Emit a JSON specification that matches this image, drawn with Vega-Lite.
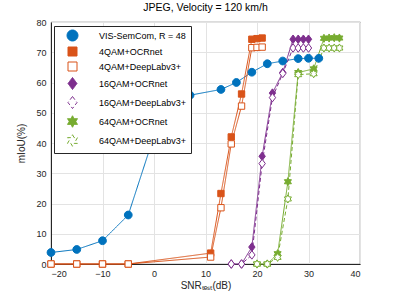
{
  "$schema": "https://vega.github.io/schema/vega-lite/v6.json",
  "width": 309,
  "height": 242,
  "autosize": {"type": "none"},
  "padding": {"left": 51, "top": 22, "right": 39, "bottom": 35},
  "background": "white",
  "title": {"text": "JPEG, Velocity = 120 km/h", "fontSize": 10.5, "fontWeight": "normal", "font": "Liberation Sans", "color": "#000000", "offset": 5, "anchor": "middle"},
  "config": {
    "view": {"stroke": "#262626", "strokeWidth": 0.8},
    "axis": {"labelFont": "Liberation Sans", "labelFontSize": 9, "labelColor": "#262626", "titleFont": "Liberation Sans", "titleFontSize": 10, "titleFontWeight": "normal", "titleColor": "#262626", "domainColor": "#262626", "tickColor": "#262626", "gridColor": "#e3e3e3", "ticks": false, "labelPadding": 5},
    "legend": {"orient": "none", "legendX": 3, "legendY": 4, "symbolOffset": 9, "labelOffset": 21, "symbolStrokeWidth": 1, "labelFont": "Liberation Sans", "labelFontSize": 9, "labelColor": "#000000", "padding": 4, "strokeColor": "#262626", "fillColor": "white", "rowPadding": 2}
  },
  "data": {"values": [
    {"s": "VIS-SemCom, R = 48", "snr": -20, "miou": 3.8},
    {"s": "VIS-SemCom, R = 48", "snr": -15, "miou": 4.8},
    {"s": "VIS-SemCom, R = 48", "snr": -10, "miou": 7.7},
    {"s": "VIS-SemCom, R = 48", "snr": -5, "miou": 16.2},
    {"s": "VIS-SemCom, R = 48", "snr": 1, "miou": 47.6},
    {"s": "VIS-SemCom, R = 48", "snr": 4, "miou": 51.4},
    {"s": "VIS-SemCom, R = 48", "snr": 7, "miou": 55.8},
    {"s": "VIS-SemCom, R = 48", "snr": 13, "miou": 57.7},
    {"s": "VIS-SemCom, R = 48", "snr": 16, "miou": 60.0},
    {"s": "VIS-SemCom, R = 48", "snr": 19, "miou": 63.4},
    {"s": "VIS-SemCom, R = 48", "snr": 22, "miou": 66.2},
    {"s": "VIS-SemCom, R = 48", "snr": 25, "miou": 67.1},
    {"s": "VIS-SemCom, R = 48", "snr": 28, "miou": 67.9},
    {"s": "VIS-SemCom, R = 48", "snr": 30, "miou": 68.0},
    {"s": "VIS-SemCom, R = 48", "snr": 32, "miou": 68.0},
    {"s": "4QAM+OCRnet", "snr": -20, "miou": 0},
    {"s": "4QAM+OCRnet", "snr": -15, "miou": 0},
    {"s": "4QAM+OCRnet", "snr": -10, "miou": 0},
    {"s": "4QAM+OCRnet", "snr": -5, "miou": 0},
    {"s": "4QAM+OCRnet", "snr": 11, "miou": 3.6},
    {"s": "4QAM+OCRnet", "snr": 13, "miou": 23.3},
    {"s": "4QAM+OCRnet", "snr": 15, "miou": 42.0},
    {"s": "4QAM+OCRnet", "snr": 17, "miou": 56.2},
    {"s": "4QAM+OCRnet", "snr": 19, "miou": 74.3},
    {"s": "4QAM+OCRnet", "snr": 20, "miou": 74.5},
    {"s": "4QAM+OCRnet", "snr": 21, "miou": 74.7},
    {"s": "4QAM+DeepLabv3+", "snr": -20, "miou": 0},
    {"s": "4QAM+DeepLabv3+", "snr": -15, "miou": 0},
    {"s": "4QAM+DeepLabv3+", "snr": -10, "miou": 0},
    {"s": "4QAM+DeepLabv3+", "snr": -5, "miou": 0},
    {"s": "4QAM+DeepLabv3+", "snr": 11, "miou": 2.3},
    {"s": "4QAM+DeepLabv3+", "snr": 13, "miou": 18.6},
    {"s": "4QAM+DeepLabv3+", "snr": 15, "miou": 39.7},
    {"s": "4QAM+DeepLabv3+", "snr": 17, "miou": 52.2},
    {"s": "4QAM+DeepLabv3+", "snr": 19, "miou": 71.5},
    {"s": "4QAM+DeepLabv3+", "snr": 20, "miou": 71.6},
    {"s": "4QAM+DeepLabv3+", "snr": 21, "miou": 71.7},
    {"s": "16QAM+OCRnet", "snr": 15, "miou": 0},
    {"s": "16QAM+OCRnet", "snr": 17, "miou": 0},
    {"s": "16QAM+OCRnet", "snr": 19, "miou": 5.6},
    {"s": "16QAM+OCRnet", "snr": 21, "miou": 35.6},
    {"s": "16QAM+OCRnet", "snr": 23, "miou": 56.5},
    {"s": "16QAM+OCRnet", "snr": 25, "miou": 63.3},
    {"s": "16QAM+OCRnet", "snr": 27, "miou": 74.3},
    {"s": "16QAM+OCRnet", "snr": 28, "miou": 74.3},
    {"s": "16QAM+OCRnet", "snr": 29, "miou": 74.3},
    {"s": "16QAM+OCRnet", "snr": 30, "miou": 74.3},
    {"s": "16QAM+DeepLabv3+", "snr": 15, "miou": 0},
    {"s": "16QAM+DeepLabv3+", "snr": 17, "miou": 0},
    {"s": "16QAM+DeepLabv3+", "snr": 19, "miou": 3.0},
    {"s": "16QAM+DeepLabv3+", "snr": 21, "miou": 33.2},
    {"s": "16QAM+DeepLabv3+", "snr": 23, "miou": 55.0},
    {"s": "16QAM+DeepLabv3+", "snr": 25, "miou": 63.0},
    {"s": "16QAM+DeepLabv3+", "snr": 27, "miou": 71.4},
    {"s": "16QAM+DeepLabv3+", "snr": 28, "miou": 71.4},
    {"s": "16QAM+DeepLabv3+", "snr": 29, "miou": 71.4},
    {"s": "16QAM+DeepLabv3+", "snr": 30, "miou": 71.4},
    {"s": "64QAM+OCRnet", "snr": 20, "miou": 0},
    {"s": "64QAM+OCRnet", "snr": 22, "miou": 0},
    {"s": "64QAM+OCRnet", "snr": 24, "miou": 3.4},
    {"s": "64QAM+OCRnet", "snr": 26, "miou": 27.2},
    {"s": "64QAM+OCRnet", "snr": 28, "miou": 63.3},
    {"s": "64QAM+OCRnet", "snr": 31, "miou": 64.5},
    {"s": "64QAM+OCRnet", "snr": 33, "miou": 74.6},
    {"s": "64QAM+OCRnet", "snr": 34, "miou": 74.7},
    {"s": "64QAM+OCRnet", "snr": 35, "miou": 74.8},
    {"s": "64QAM+OCRnet", "snr": 36, "miou": 74.7},
    {"s": "64QAM+DeepLabv3+", "snr": 20, "miou": 0},
    {"s": "64QAM+DeepLabv3+", "snr": 22, "miou": 0},
    {"s": "64QAM+DeepLabv3+", "snr": 24, "miou": 2.2},
    {"s": "64QAM+DeepLabv3+", "snr": 26, "miou": 21.5},
    {"s": "64QAM+DeepLabv3+", "snr": 28, "miou": 62.6},
    {"s": "64QAM+DeepLabv3+", "snr": 31, "miou": 62.9},
    {"s": "64QAM+DeepLabv3+", "snr": 33, "miou": 71.4},
    {"s": "64QAM+DeepLabv3+", "snr": 34, "miou": 71.4},
    {"s": "64QAM+DeepLabv3+", "snr": 35, "miou": 71.4},
    {"s": "64QAM+DeepLabv3+", "snr": 36, "miou": 71.4}
  ]},
  "encoding": {
    "x": {"field": "snr", "type": "quantitative", "scale": {"domain": [-20, 40], "nice": false}, "axis": {"title": "SNRₜₑₛₜ(dB)", "values": [-20, -10, 0, 10, 20, 30, 40], "grid": true, "titlePadding": 2}},
    "y": {"field": "miou", "type": "quantitative", "scale": {"domain": [0, 80], "nice": false}, "axis": {"title": "mIoU(%)", "values": [0, 10, 20, 30, 40, 50, 60, 70, 80], "grid": true, "titlePadding": 9}}
  },
  "layer": [
    {
      "mark": {"type": "line", "strokeWidth": 1},
      "encoding": {
        "stroke": {"field": "s", "type": "nominal", "scale": {"domain": ["VIS-SemCom, R = 48", "4QAM+OCRnet", "4QAM+DeepLabv3+", "16QAM+OCRnet", "16QAM+DeepLabv3+", "64QAM+OCRnet", "64QAM+DeepLabv3+"], "range": ["#0072BD", "#D95319", "#D95319", "#7E2F8E", "#7E2F8E", "#77AC30", "#77AC30"]}, "legend": {"title": null}},
        "strokeDash": {"field": "s", "type": "nominal", "scale": {"domain": ["VIS-SemCom, R = 48", "4QAM+OCRnet", "4QAM+DeepLabv3+", "16QAM+OCRnet", "16QAM+DeepLabv3+", "64QAM+OCRnet", "64QAM+DeepLabv3+"], "range": [[1, 0], [1, 0], [1, 0], [1, 0], [4, 2.5], [1, 0], [4, 2.5]]}, "legend": {"title": null}}
      }
    },
    {
      "mark": {"type": "point", "size": 50, "strokeWidth": 1, "opacity": 1},
      "encoding": {
        "stroke": {"field": "s", "type": "nominal", "legend": {"title": null}},
        "fill": {"field": "s", "type": "nominal", "scale": {"domain": ["VIS-SemCom, R = 48", "4QAM+OCRnet", "4QAM+DeepLabv3+", "16QAM+OCRnet", "16QAM+DeepLabv3+", "64QAM+OCRnet", "64QAM+DeepLabv3+"], "range": ["#0072BD", "#D95319", "#ffffff", "#7E2F8E", "#ffffff", "#77AC30", "#ffffff"]}, "legend": {"title": null}},
        "shape": {"field": "s", "type": "nominal", "scale": {"domain": ["VIS-SemCom, R = 48", "4QAM+OCRnet", "4QAM+DeepLabv3+", "16QAM+OCRnet", "16QAM+DeepLabv3+", "64QAM+OCRnet", "64QAM+DeepLabv3+"], "range": [
          "M1.1,0A1.1,1.1,0,1,1,-1.1,0A1.1,1.1,0,1,1,1.1,0Z",
          "M-0.9,-0.9L0.9,-0.9L0.9,0.9L-0.9,0.9Z",
          "M-0.9,-0.9L0.9,-0.9L0.9,0.9L-0.9,0.9Z",
          "M0,-1.2L0.9,0L0,1.2L-0.9,0Z",
          "M0,-1.2L0.9,0L0,1.2L-0.9,0Z",
          "M0,-1.15L0.332,-0.575L0.996,-0.575L0.664,0L0.996,0.575L0.332,0.575L0,1.15L-0.332,0.575L-0.996,0.575L-0.664,0L-0.996,-0.575L-0.332,-0.575Z",
          "M0,-1.15L0.332,-0.575L0.996,-0.575L0.664,0L0.996,0.575L0.332,0.575L0,1.15L-0.332,0.575L-0.996,0.575L-0.664,0L-0.996,-0.575L-0.332,-0.575Z"
        ]}, "legend": {"title": null, "encode": {"symbols": {"update": {"size": {"value": 49}, "strokeWidth": {"value": 1}, "strokeDash": {"value": [1, 0]}, "shape": {"signal": "['M-3.7,0L-1.1,0M1.1,0L3.7,0M1.1,0A1.1,1.1,0,1,1,-1.1,0A1.1,1.1,0,1,1,1.1,0Z','M-3.7,0L-0.9,0M0.9,0L3.7,0M-0.9,-0.9L0.9,-0.9L0.9,0.9L-0.9,0.9Z','M-3.7,0L-0.9,0M0.9,0L3.7,0M-0.9,-0.9L0.9,-0.9L0.9,0.9L-0.9,0.9Z','M-3.7,0L-0.9,0M0.9,0L3.7,0M0,-1.2L0.9,0L0,1.2L-0.9,0Z','M-3.7,0L-2.9,0M-2.3,0L-1.3,0M1.3,0L2.3,0M2.9,0L3.7,0M0,-1.2L0.9,0L0,1.2L-0.9,0Z','M-3.7,0L-1.1,0M1.1,0L3.7,0M0,-1.15L0.332,-0.575L0.996,-0.575L0.664,0L0.996,0.575L0.332,0.575L0,1.15L-0.332,0.575L-0.996,0.575L-0.664,0L-0.996,-0.575L-0.332,-0.575Z','M-3.7,0L-2.9,0M-2.3,0L-1.3,0M1.3,0L2.3,0M2.9,0L3.7,0M0,-1.15L0.332,-0.575L0.996,-0.575L0.664,0L0.996,0.575L0.332,0.575L0,1.15L-0.332,0.575L-0.996,0.575L-0.664,0L-0.996,-0.575L-0.332,-0.575Z'][datum.index]"}}}}}}
      }
    }
  ]
}
